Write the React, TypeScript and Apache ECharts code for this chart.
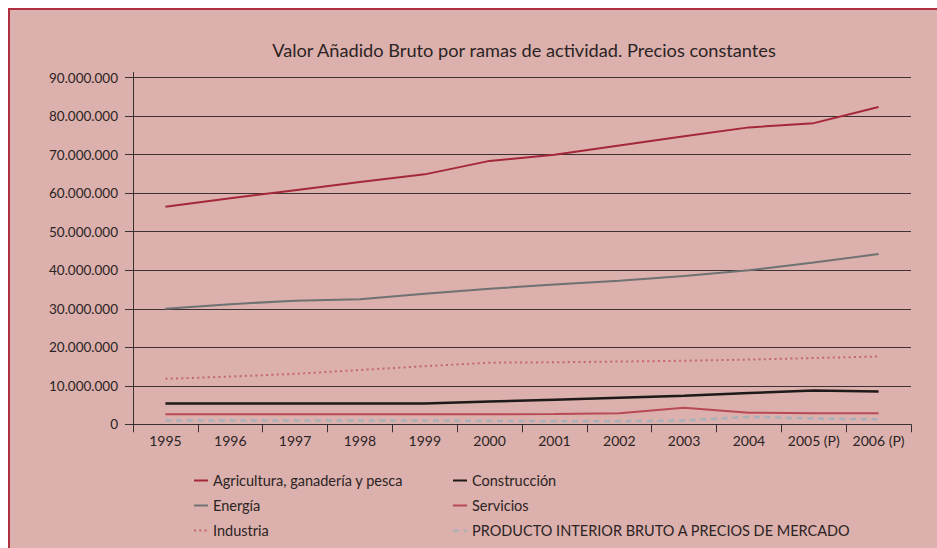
import React, { useEffect, useRef } from "react";
import * as echarts from "echarts";

const categories = ["1995", "1996", "1997", "1998", "1999", "2000", "2001", "2002", "2003", "2004", "2005 (P)", "2006 (P)"];
const agricultura = [56500000, 58700000, 60800000, 62900000, 64900000, 68400000, 70000000, 72400000, 74800000, 77100000, 78200000, 82400000];
const construccion = [5400000, 5400000, 5400000, 5400000, 5400000, 5900000, 6400000, 6900000, 7400000, 8100000, 8800000, 8500000];
const energia = [30000000, 31200000, 32100000, 32500000, 33900000, 35200000, 36300000, 37300000, 38500000, 40000000, 42000000, 44200000];
const servicios = [2600000, 2600000, 2600000, 2600000, 2600000, 2600000, 2700000, 2900000, 4300000, 3000000, 2900000, 2900000];
const industria = [11800000, 12400000, 13100000, 14100000, 15100000, 16000000, 16100000, 16300000, 16500000, 16800000, 17200000, 17600000];
const pib = [1000000, 1000000, 1000000, 1000000, 1000000, 900000, 800000, 800000, 1000000, 1900000, 1500000, 1300000];

const names = [
  "Agricultura, ganadería y pesca",
  "Construcción",
  "Energía",
  "Servicios",
  "Industria",
  "PRODUCTO INTERIOR BRUTO A PRECIOS DE MERCADO",
];

const FONT = "Lato";
const TEXT = "#2b2424";

function fmt(v: number) {
  return String(v).replace(/\B(?=(\d{3})+(?!\d))/g, ".");
}

export default function App() {
  const ref = useRef<HTMLDivElement>(null);
  useEffect(() => {
    if (!ref.current) return;
    const chart = echarts.init(ref.current, undefined, { renderer: "svg" });
    const line = (name: string, data: number[], color: string, width: number, type: any, z = 2) => ({
      name,
      type: "line",
      data,
      symbol: "none",
      z,
      lineStyle: { color, width, type, cap: "butt" },
      itemStyle: { color },
    });
    const legendBase = {
      orient: "vertical",
      top: 473,
      padding: 0,
      itemWidth: 14,
      itemHeight: 14,
      itemGap: 10,
      itemStyle: { opacity: 0 },
      textStyle: { fontFamily: FONT, fontSize: 14.5, color: TEXT },
    };
    chart.setOption({
      animation: false,
      backgroundColor: "transparent",
      textStyle: { fontFamily: FONT },
      graphic: [
        {
          type: "rect",
          z: -10,
          shape: { x: 9, y: 9, width: 1000, height: 1000 },
          style: { fill: "#dcb0ac", stroke: "#b0303f", lineWidth: 2 },
        },
        {
          type: "line",
          z: 5,
          shape: { x1: 133.5, y1: 72, x2: 133.5, y2: 78 },
          style: { stroke: "#3a3030", lineWidth: 1 },
        },
      ],
      title: {
        text: "Valor Añadido Bruto por ramas de actividad. Precios constantes",
        left: 519,
        textAlign: "center",
        top: 36,
        textStyle: { fontFamily: FONT, fontSize: 18.2, fontWeight: "normal", color: TEXT },
      },
      legend: [
        { ...legendBase, left: 193, data: [names[0], names[2], names[4]] },
        { ...legendBase, left: 452, data: [names[1], names[3], names[5]] },
      ],
      grid: { left: 133, right: 26, top: 77.7, bottom: 123.7 },
      xAxis: {
        type: "category",
        data: categories,
        boundaryGap: true,
        axisLine: { lineStyle: { color: "#3a3030", width: 1 } },
        axisTick: { show: true, length: 8, inside: false, lineStyle: { color: "#3a3030" } },
        axisLabel: { fontFamily: FONT, fontSize: 14, color: TEXT, margin: 9, interval: 0 },
        splitLine: { show: false },
      },
      yAxis: {
        type: "value",
        min: 0,
        max: 90000000,
        interval: 10000000,
        axisLine: { show: true, lineStyle: { color: "#3a3030", width: 1 } },
        axisTick: { show: true, length: 8, lineStyle: { color: "#3a3030" } },
        axisLabel: { fontFamily: FONT, fontSize: 13.5, color: TEXT, margin: 15, formatter: (v: number) => fmt(v) },
        splitLine: { show: true, lineStyle: { color: "#3e3232", width: 1 } },
      },
      series: [
        line(names[0], agricultura, "#a4283a", 2, "solid"),
        line(names[1], construccion, "#1e1a1a", 2.5, "solid"),
        line(names[2], energia, "#6e7272", 2, "solid"),
        line(names[3], servicios, "#b84a54", 2, "solid"),
        line(names[4], industria, "#c4666f", 2, [2, 3.3]),
        line(names[5], pib, "#a7b0b8", 2.5, [6, 4.7]),
      ],
    });
    return () => chart.dispose();
  }, []);
  return (
    <div
      ref={ref}
      style={{ position: "fixed", left: 0, top: 0, width: 937, height: 548, background: "#ffffff" }}
    />
  );
}
